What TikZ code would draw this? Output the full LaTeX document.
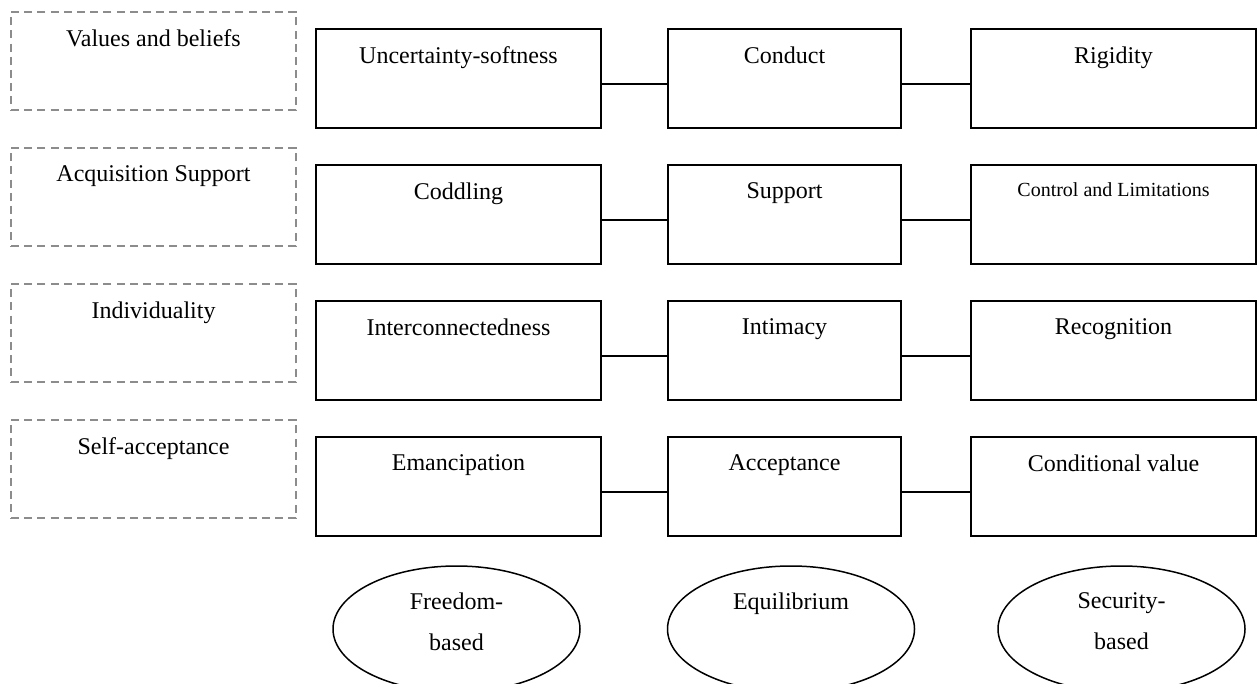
\documentclass[tikz,border=0pt]{standalone}
\usepackage{fontspec}
\setmainfont{Liberation Serif}
\usetikzlibrary{shapes.geometric}
\definecolor{dashgray}{HTML}{8C8C8C}
\begin{document}
\begin{tikzpicture}[x=0.5pt,y=-0.5pt,
  catbox/.style={draw=dashgray,line width=1pt,dash pattern=on 4pt off 2.6pt,minimum width=142.5pt,minimum height=49pt,inner sep=0pt},
  sidebox/.style={draw,line width=0.75pt,minimum width=142.5pt,minimum height=49.5pt,inner sep=0pt},
  midbox/.style={draw,line width=0.75pt,minimum width=116.5pt,minimum height=49.5pt,inner sep=0pt},
  boxtext/.style={anchor=north,inner sep=0pt,yshift=-9pt,font=\fontsize{12}{14}\selectfont},
  link/.style={line width=0.75pt},
  pole/.style={draw,ellipse,line width=0.75pt,minimum width=123.5pt,minimum height=63pt,inner sep=0pt}
]
\useasboundingbox (0,0) rectangle (1257,684);
\clip (0,0) rectangle (1257,684);
% category boxes
\node[catbox,label={[boxtext]north:Values and beliefs}] (c1) at (153.5,61) {};
\node[catbox,label={[boxtext]north:Acquisition Support}] (c2) at (153.5,197) {};
\node[catbox,label={[boxtext]north:Individuality}] (c3) at (153.5,333) {};
\node[catbox,label={[boxtext]north:Self-acceptance}] (c4) at (153.5,469) {};
% row 1
\node[sidebox,label={[boxtext]north:Uncertainty-softness}] (a1) at (458.5,78.5) {};
\node[midbox,label={[boxtext]north:Conduct}] (b1) at (784.5,78.5) {};
\node[sidebox,label={[boxtext]north:Rigidity}] (d1) at (1113.5,78.5) {};
% row 2
\node[sidebox,label={[boxtext]north:Coddling}] (a2) at (458.5,214.5) {};
\node[midbox,label={[boxtext]north:Support}] (b2) at (784.5,214.5) {};
\node[sidebox,label={[boxtext,font=\fontsize{10}{12}\selectfont]north:Control and Limitations}] (d2) at (1113.5,214.5) {};
% row 3
\node[sidebox,label={[boxtext]north:Interconnectedness}] (a3) at (458.5,350.5) {};
\node[midbox,label={[boxtext]north:Intimacy}] (b3) at (784.5,350.5) {};
\node[sidebox,label={[boxtext]north:Recognition}] (d3) at (1113.5,350.5) {};
% row 4
\node[sidebox,label={[boxtext]north:Emancipation}] (a4) at (458.5,486.5) {};
\node[midbox,label={[boxtext]north:Acceptance}] (b4) at (784.5,486.5) {};
\node[sidebox,label={[boxtext]north:Conditional value}] (d4) at (1113.5,486.5) {};
% connectors
\foreach \r in {1,2,3,4}{
  \draw[link] ([yshift=-2.75pt]a\r.east) -- ([yshift=-2.75pt]b\r.west);
  \draw[link] ([yshift=-2.75pt]b\r.east) -- ([yshift=-2.75pt]d\r.west);
}
% ellipses
\node[pole,label={[boxtext,yshift=-4.5pt,align=center,font=\fontsize{12}{20.5}\selectfont]north:Freedom-\\based}] (e1) at (456.5,629) {};
\node[pole,label={[boxtext,yshift=-4.5pt]north:Equilibrium}] (e2) at (791,629) {};
\node[pole,label={[boxtext,yshift=-4.5pt,align=center,font=\fontsize{12}{20.5}\selectfont]north:Security-\\based}] (e3) at (1121.5,629) {};
\end{tikzpicture}
\end{document}
